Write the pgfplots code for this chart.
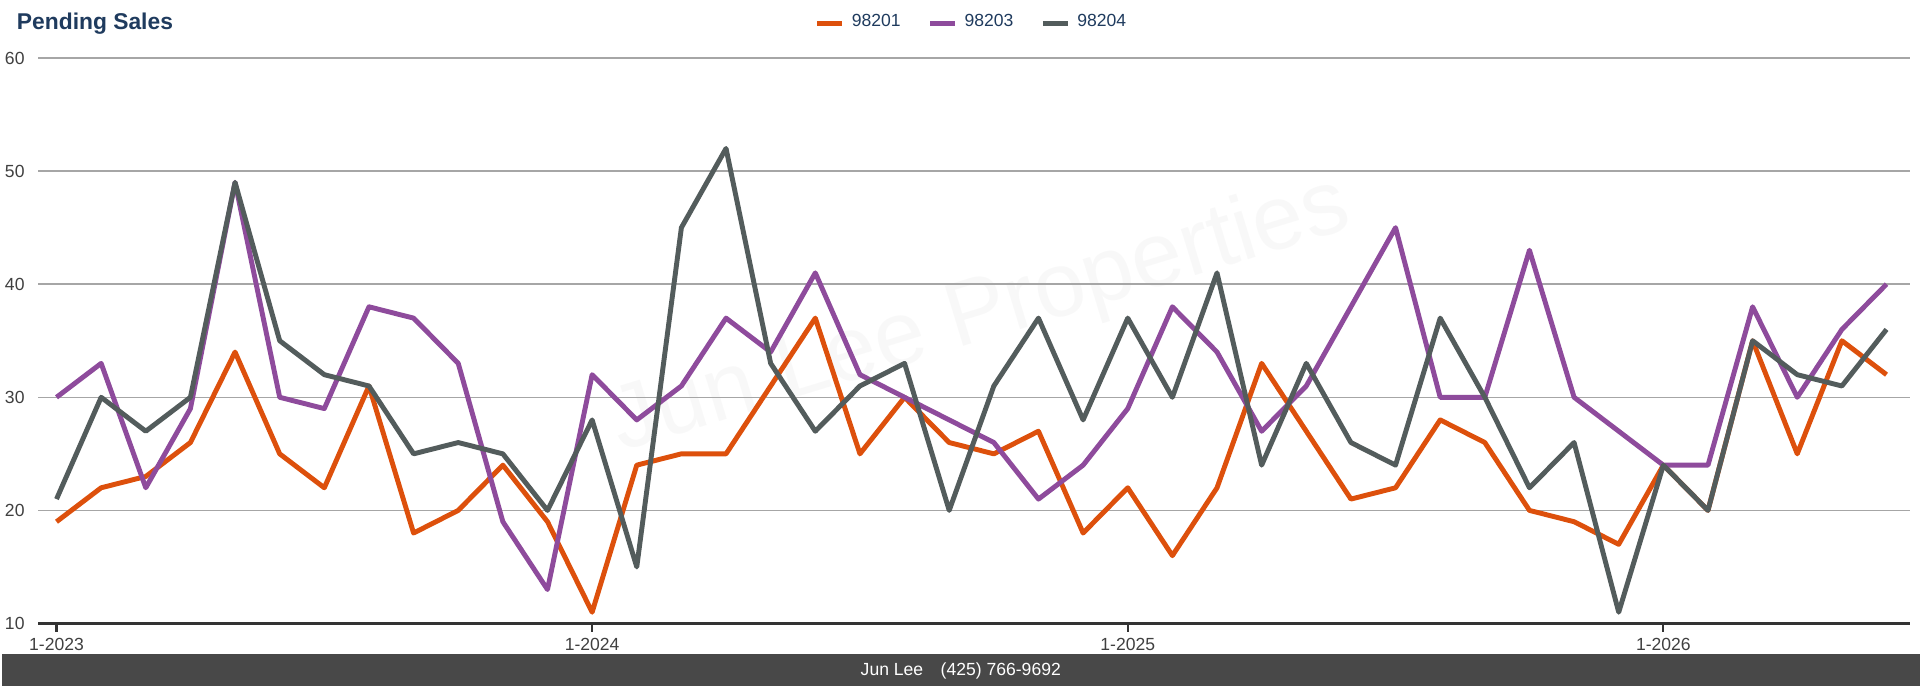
\documentclass[border=0pt]{standalone}
\usepackage{pgfplots}
\pgfplotsset{compat=1.18}
\usepackage{fontspec}
\setmainfont{Liberation Sans}
\definecolor{cor}{HTML}{DD500C}
\definecolor{cpu}{HTML}{8E4B9C}
\definecolor{cgr}{HTML}{535C5C}
\definecolor{ctitle}{HTML}{1F3B5E}
\definecolor{cfoot}{HTML}{484848}
\begin{document}
\begin{tikzpicture}
\fill[white] (0,0) rectangle (192mm,68.7mm);
\fill[cfoot] (0,0) rectangle (192mm,3.2mm);
\node[white,font=\fontsize{5}{6}\selectfont] at (96mm,1.6mm) {Jun Lee\quad(425) 766-9692};
\node[anchor=north west,ctitle,font=\fontsize{6.5}{8}\selectfont\bfseries] at (0.3mm,68.6mm) {Pending Sales};
\node[rotate=17,font=\fontsize{26}{30}\selectfont,text=gray,opacity=0.05] at (98mm,37mm) {Jun Lee Properties};
\begin{axis}[at={(3.67mm,6.3mm)},anchor=south west,scale only axis,
 width=187.3mm,height=56.6mm,
 xmin=-0.41,xmax=41.52,ymin=10,ymax=60,
 ytick={10,20,...,60},
 xtick={0,12,24,36},xticklabels={1-2023,1-2024,1-2025,1-2026},
 ymajorgrids,major grid style={gray!70,line width=0.4pt},
 axis x line*=bottom, axis y line*=left,
 y axis line style={draw=none},
 x axis line style={draw=black!80,line width=0.6pt,-},
 xtick style={draw=black!80,line width=0.6pt},
 ytick style={draw=none},
 tick align=outside, major tick length=0.8mm,
 ticklabel style={font=\fontsize{5}{6}\selectfont,text=black!75},
 xticklabel style={inner sep=0.6mm},
 yticklabel style={inner sep=0.5mm},
 /pgf/number format/assume math mode=true,
 clip=false,
 legend style={at={(0.5,1.02)},anchor=south,draw=none,fill=none,legend columns=-1,
   font=\fontsize{5}{6}\selectfont,text=ctitle,/tikz/every even column/.append style={column sep=2mm}},
 legend image code/.code={\draw[#1](0mm,0mm)--(2.5mm,0mm);},
 every axis plot/.append style={line width=1.4pt,line join=round,no marks}
]
\addplot[cor] coordinates {(0,19)(1,22)(2,23)(3,26)(4,34)(5,25)(6,22)(7,31)(8,18)(9,20)(10,24)(11,19)(12,11)(13,24)(14,25)(15,25)(16,31)(17,37)(18,25)(19,30)(20,26)(21,25)(22,27)(23,18)(24,22)(25,16)(26,22)(27,33)(28,27)(29,21)(30,22)(31,28)(32,26)(33,20)(34,19)(35,17)(36,24)(37,20)(38,35)(39,25)(40,35)(41,32)};
\addlegendentry{98201}
\addplot[cpu] coordinates {(0,30)(1,33)(2,22)(3,29)(4,49)(5,30)(6,29)(7,38)(8,37)(9,33)(10,19)(11,13)(12,32)(13,28)(14,31)(15,37)(16,34)(17,41)(18,32)(19,30)(20,28)(21,26)(22,21)(23,24)(24,29)(25,38)(26,34)(27,27)(28,31)(29,38)(30,45)(31,30)(32,30)(33,43)(34,30)(35,27)(36,24)(37,24)(38,38)(39,30)(40,36)(41,40)};
\addlegendentry{98203}
\addplot[cgr] coordinates {(0,21)(1,30)(2,27)(3,30)(4,49)(5,35)(6,32)(7,31)(8,25)(9,26)(10,25)(11,20)(12,28)(13,15)(14,45)(15,52)(16,33)(17,27)(18,31)(19,33)(20,20)(21,31)(22,37)(23,28)(24,37)(25,30)(26,41)(27,24)(28,33)(29,26)(30,24)(31,37)(32,30)(33,22)(34,26)(35,11)(36,24)(37,20)(38,35)(39,32)(40,31)(41,36)};
\addlegendentry{98204}
\end{axis}
\end{tikzpicture}
\end{document}
